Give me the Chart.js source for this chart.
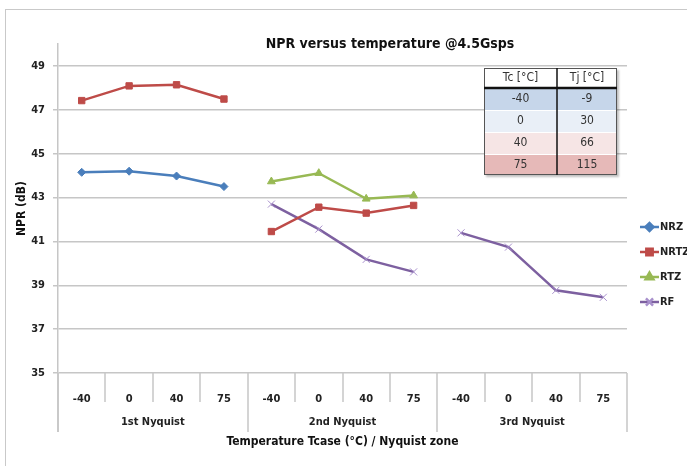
<!DOCTYPE html>
<html>
<head>
<meta charset="utf-8">
<script src="https://cdn.jsdelivr.net/npm/chart.js@4/dist/chart.umd.min.js"></script>
<style>
  html, body { margin: 0; padding: 0; background: #fff; }
  #wrap { position: relative; width: 687px; height: 466px; overflow: hidden; }
  #frame { position: absolute; left: 5px; top: 9px; width: 720px; height: 500px; border: 1.5px solid #c9c9c9; }
  #chart { position: absolute; left: 0; top: 0; }
</style>
</head>
<body>
<div id="wrap">
  <div id="frame"></div>
  <canvas id="chart" width="687" height="466"></canvas>
</div>
<script>
// chart data
var chartTitle = 'NPR versus temperature @4.5Gsps';
var xLabels = ['-40', '0', '40', '75', '-40', '0', '40', '75', '-40', '0', '40', '75'];
var groupLabels = ['1st Nyquist', '2nd Nyquist', '3rd Nyquist'];
var yTicks = [35, 37, 39, 41, 43, 45, 47, 49];

var nrz  = [44.15, 44.2, 43.98, 43.5, null, null, null, null, null, null, null, null];
var nrtz = [47.42, 48.09, 48.14, 47.49, 41.45, 42.56, 42.29, 42.64, null, null, null, null];
var rtz  = [null, null, null, null, 43.73, 44.11, 42.94, 43.09, null, null, null, null];
var rf   = [null, null, null, null, 42.7, 41.56, 40.18, 39.61, 41.39, 40.74, 38.77, 38.45];

// inset table
var tableHead = ['Tc [°C]', 'Tj [°C]'];
var tableTc = ['-40', '0', '40', '75'];
var tableTj = ['-9', '30', '66', '115'];
var tableColors = ['#c6d6ea', '#e9eff7', '#f6e5e5', '#e6b9b8'];

var FONT = "'Liberation Sans Narrow', 'DejaVu Sans Condensed', 'Roboto', sans-serif";
var perGroup = xLabels.length / groupLabels.length;

function groupOf(i) { return Math.floor(i / perGroup); }

function breakGroups(ctx) {
  return groupOf(ctx.p0DataIndex) !== groupOf(ctx.p1DataIndex) ? 'rgba(0,0,0,0)' : undefined;
}

function makeSet(label, data, color, ptColor, style, radius) {
  return {
    label: label,
    data: data,
    borderColor: color,
    backgroundColor: ptColor,
    pointBackgroundColor: ptColor,
    pointBorderColor: ptColor,
    pointStyle: style,
    pointRadius: radius,
    pointBorderWidth: 1,
    borderWidth: 2.5,
    tension: 0,
    spanGaps: false,
    segment: { borderColor: breakGroups }
  };
}

var datasets = [
  makeSet('NRZ', nrz, '#4a7ebb', '#4a7ebb', 'rectRot', 4),
  makeSet('NRTZ', nrtz, '#be4b48', '#be4b48', 'rect', 4.5),
  makeSet('RTZ', rtz, '#98b954', '#98b954', 'triangle', 4.5),
  makeSet('RF', rf, '#7d60a0', '#a890cc', 'crossRot', 5)
];

function drawMarker(ctx, ds, x, y) {
  if (Chart.helpers && Chart.helpers.drawPoint) {
    Chart.helpers.drawPoint(ctx, {
      pointStyle: ds.pointStyle, radius: ds.pointRadius, borderWidth: 1, rotation: 0
    }, x, y);
  } else {
    ctx.fillRect(x - 3, y - 3, 6, 6);
  }
}

var extras = {
  id: 'extras',
  afterDraw: function (chart) {
    var ctx = chart.ctx;
    var xs = chart.scales.x;
    var area = chart.chartArea;
    var step = xs.getPixelForValue(1) - xs.getPixelForValue(0);
    ctx.save();

    // title
    ctx.fillStyle = '#111';
    ctx.font = 'bold 14px ' + FONT;
    ctx.textAlign = 'center';
    ctx.textBaseline = 'middle';
    ctx.fillText(chartTitle, 390, 44);

    // category / group dividers under the axis
    ctx.strokeStyle = '#c6c6c6';
    ctx.lineWidth = 1.5;
    for (var i = 0; i <= xLabels.length; i++) {
      var bx = Math.round(xs.getPixelForValue(0) - step / 2 + i * step);
      var isGroup = i % perGroup === 0;
      ctx.beginPath();
      ctx.moveTo(bx, area.bottom);
      ctx.lineTo(bx, area.bottom + (isGroup ? 59 : 29));
      ctx.stroke();
    }

    // group labels
    ctx.fillStyle = '#222';
    ctx.font = 'bold 11px ' + FONT;
    for (var g = 0; g < groupLabels.length; g++) {
      var gx = (xs.getPixelForValue(g * perGroup) + xs.getPixelForValue((g + 1) * perGroup - 1)) / 2;
      ctx.fillText(groupLabels[g], gx, area.bottom + 49);
    }

    // legend
    var ly = [227, 252, 277, 302];
    chart.data.datasets.forEach(function (ds, k) {
      ctx.strokeStyle = ds.borderColor;
      ctx.lineWidth = 2.5;
      ctx.beginPath();
      ctx.moveTo(640, ly[k]);
      ctx.lineTo(659, ly[k]);
      ctx.stroke();
      ctx.fillStyle = ds.pointBackgroundColor;
      ctx.strokeStyle = ds.pointBorderColor;
      drawMarker(ctx, ds, 649.5, ly[k]);
      ctx.fillStyle = '#222';
      ctx.font = 'bold 11px ' + FONT;
      ctx.textAlign = 'left';
      ctx.fillText(ds.label, 660, ly[k]);
    });

    // inset table
    var tx0 = 484, tx1 = 557, tx2 = 617;
    var rows = [68, 88, 110, 132, 154, 175];
    ctx.shadowColor = 'rgba(0,0,0,0.25)';
    ctx.shadowOffsetX = 2;
    ctx.shadowOffsetY = 2;
    ctx.shadowBlur = 2;
    ctx.fillStyle = '#fff';
    ctx.fillRect(tx0, rows[0], tx2 - tx0, rows[5] - rows[0]);
    ctx.shadowColor = 'rgba(0,0,0,0)';
    for (var r = 0; r < tableTc.length; r++) {
      ctx.fillStyle = tableColors[r];
      ctx.fillRect(tx0, rows[r + 1], tx2 - tx0, rows[r + 2] - rows[r + 1]);
      if (r > 0) {
        ctx.strokeStyle = '#ffffff';
        ctx.lineWidth = 1;
        ctx.beginPath();
        ctx.moveTo(tx0, rows[r + 1] + 0.5);
        ctx.lineTo(tx2, rows[r + 1] + 0.5);
        ctx.stroke();
      }
    }
    ctx.strokeStyle = '#555';
    ctx.lineWidth = 1;
    ctx.strokeRect(tx0 + 0.5, rows[0] + 0.5, tx2 - tx0 - 1, rows[5] - rows[0] - 1);
    ctx.strokeStyle = '#111';
    ctx.lineWidth = 2.5;
    ctx.beginPath();
    ctx.moveTo(tx0, rows[1]);
    ctx.lineTo(tx2, rows[1]);
    ctx.stroke();
    ctx.lineWidth = 1.5;
    ctx.beginPath();
    ctx.moveTo(tx1, rows[0]);
    ctx.lineTo(tx1, rows[5]);
    ctx.stroke();

    ctx.fillStyle = '#333';
    ctx.font = '12px ' + FONT;
    ctx.textAlign = 'center';
    ctx.textBaseline = 'middle';
    ctx.fillText(tableHead[0], (tx0 + tx1) / 2, (rows[0] + rows[1]) / 2);
    ctx.fillText(tableHead[1], (tx1 + tx2) / 2, (rows[0] + rows[1]) / 2);
    for (var t = 0; t < tableTc.length; t++) {
      var cy = (rows[t + 1] + rows[t + 2]) / 2;
      ctx.fillText(tableTc[t], (tx0 + tx1) / 2, cy);
      ctx.fillText(tableTj[t], (tx1 + tx2) / 2, cy);
    }
    ctx.restore();
  }
};

var ctx = document.getElementById('chart').getContext('2d');
new Chart(ctx, {
  type: 'line',
  data: { labels: xLabels, datasets: datasets },
  options: {
    responsive: false,
    animation: false,
    layout: { padding: { top: 44, right: 60, left: 0, bottom: 0 } },
    plugins: {
      legend: { display: false },
      title: { display: false },
      tooltip: { enabled: false }
    },
    scales: {
      x: {
        type: 'category',
        offset: true,
        grid: { display: false },
        border: { display: false },
        ticks: {
          color: '#222',
          padding: 12,
          maxRotation: 0,
          autoSkip: false,
          font: { size: 11, weight: 'bold', family: FONT }
        },
        title: {
          display: true,
          text: 'Temperature Tcase (°C) / Nyquist zone',
          color: '#111',
          padding: { top: 0, bottom: 17 },
          font: { size: 12, weight: 'bold', family: FONT }
        },
        afterFit: function (scale) { scale.height = 93; }
      },
      y: {
        min: 35,
        max: 50,
        afterBuildTicks: function (scale) {
          scale.ticks = yTicks.map(function (v) { return { value: v }; });
        },
        grid: {
          color: '#c6c6c6',
          lineWidth: 1.5,
          drawTicks: true,
          tickLength: 5
        },
        border: { display: true, color: '#c6c6c6', width: 1.5 },
        ticks: {
          color: '#222',
          padding: 8,
          font: { size: 11, weight: 'bold', family: FONT }
        },
        title: {
          display: true,
          text: 'NPR (dB)',
          color: '#111',
          padding: { top: 15, bottom: 0 },
          font: { size: 12, weight: 'bold', family: FONT }
        },
        afterFit: function (scale) { scale.width = 58; }
      }
    }
  },
  plugins: [extras, {
    id: 'axisTail',
    afterDraw: function (chart) {
      var c = chart.ctx, a = chart.chartArea;
      c.save();
      c.strokeStyle = '#c6c6c6';
      c.lineWidth = 1.5;
      c.beginPath();
      c.moveTo(a.left, a.bottom);
      c.lineTo(a.left, a.bottom + 59);
      c.stroke();
      c.restore();
    }
  }]
});
</script>
</body>
</html>
